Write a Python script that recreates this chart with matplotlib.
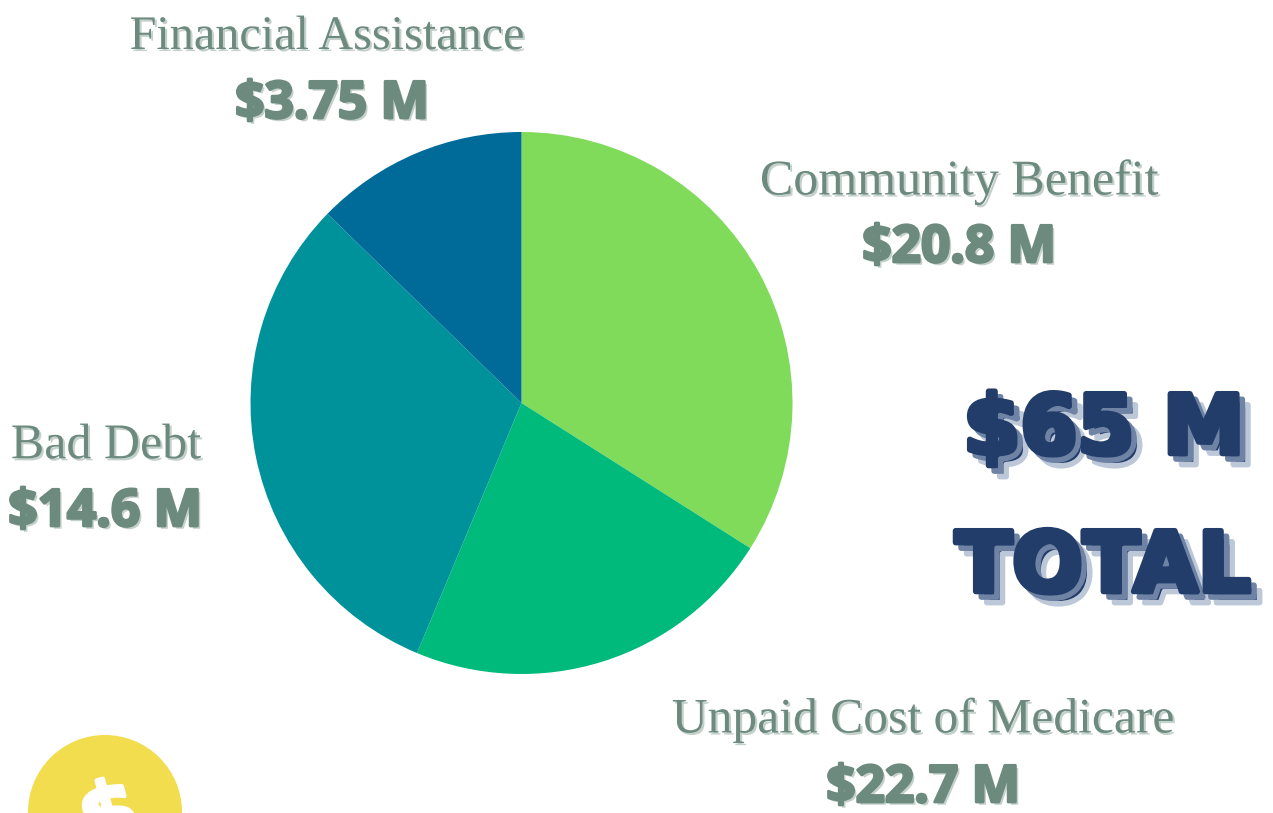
import matplotlib
matplotlib.use("Agg")
import matplotlib.pyplot as plt
import matplotlib.patheffects as pe
from matplotlib.patches import Circle

W, H = 1273, 813
# Slice shares as drawn in the picture (percent of the circle)
shares = [34.0, 22.3, 31.0, 12.7]
colors = ["#80DB5A", "#00BA7C", "#00929B", "#006A99"]
labels = ["Community Benefit", "Unpaid Cost of Medicare", "Bad Debt", "Financial Assistance"]
amounts = ["$20.8 M", "$22.7 M", "$14.6 M", "$3.75 M"]
label_xy = [(959, 182), (923, 720), (106, 446), (327, 37)]
label_sizes = [36, 35.7, 36, 34.7]
amount_xy = [(959, 249), (923, 789), (105, 513), (332, 105)]
total_lines = ["$65 M", "TOTAL"]
total_xy = [(1104, 431), (1103, 568)]
total_sizes = [59, 60]

GREY = "#6C8A7E"
NAVY = "#233D6B"

fig = plt.figure(figsize=(W / 100, H / 100), dpi=100, facecolor="white")
ax = fig.add_axes([0, 0, 1, 1])
ax.pie(shares, colors=colors, center=(521.5, H - 403), radius=271,
       startangle=90, counterclock=False, wedgeprops=dict(linewidth=0))
ax.set_xlim(0, W)
ax.set_ylim(0, H)
ax.set_aspect("equal")
ax.axis("off")

for lab, (x, y), s in zip(labels, label_xy, label_sizes):
    ax.text(x, H - y, lab, family="Liberation Serif", fontsize=s, color=GREY,
            ha="center", va="center",
            path_effects=[pe.withSimplePatchShadow(offset=(1.5, -1.5), shadow_rgbFace="#C4D0CB", alpha=1)])
for amt, (x, y) in zip(amounts, amount_xy):
    ax.text(x, H - y, amt, family="Open Sans", weight="bold", fontsize=37, color=GREY,
            ha="center", va="center",
            path_effects=[pe.SimplePatchShadow(offset=(2, -2), shadow_rgbFace="#C4D0CB", alpha=1),
                          pe.Stroke(linewidth=2, foreground=GREY, joinstyle="round"), pe.Normal()])

for line, (x, y), s in zip(total_lines, total_xy, total_sizes):
    ax.text(x, H - y, line, family="DejaVu Sans", weight="bold", fontsize=s, color=NAVY,
            ha="center", va="center",
            path_effects=[
                pe.Stroke(linewidth=4, foreground="#BCC7D8", offset=(8, -8), joinstyle="round"),
                pe.Stroke(linewidth=4, foreground="#6F83A5", offset=(4, -4), joinstyle="round"),
                pe.Stroke(linewidth=4, foreground=NAVY, joinstyle="round"),
                pe.Normal()])

ax.add_patch(Circle((105, H - 812), 77, facecolor="#F2DD4E", edgecolor="none"))
ax.text(110, H - 818, "$", family="DejaVu Sans", weight="bold", fontsize=60, color="white",
        ha="center", va="center", rotation=15, clip_on=True,
        path_effects=[pe.Stroke(linewidth=3, foreground="white", joinstyle="round"), pe.Normal()])

fig.savefig("out.png", dpi=100, facecolor="white")
